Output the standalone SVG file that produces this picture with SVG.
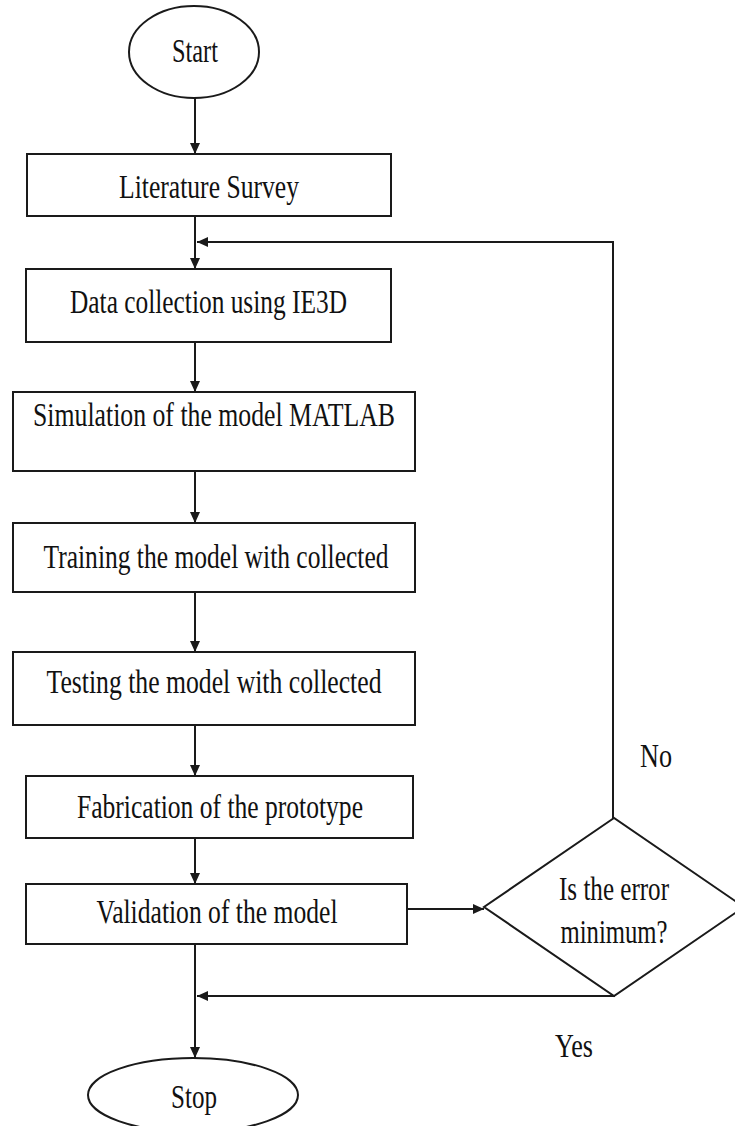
<svg xmlns="http://www.w3.org/2000/svg" width="735" height="1126" viewBox="0 0 735 1126">
<style>
.box{fill:#fff;stroke:#1a1a1a;stroke-width:2}
.t{font-family:"Liberation Serif","Times New Roman",serif;font-size:34px;fill:#111;text-anchor:middle}
.c{fill:none;stroke:#1a1a1a;stroke-width:2}
</style>
<defs>
<marker id="ah" markerUnits="userSpaceOnUse" markerWidth="12" markerHeight="10" refX="11" refY="5" orient="auto">
<path d="M0,0 L11,5 L0,10 z" fill="#1a1a1a"/>
</marker>
</defs>
<rect width="735" height="1126" fill="#fff"/>
<g id="connectors">
<line class="c" x1="195" y1="98" x2="195" y2="154" marker-end="url(#ah)"/>
<line class="c" x1="195" y1="216" x2="195" y2="269" marker-end="url(#ah)"/>
<polyline class="c" points="613,818 613,242 197,242" marker-end="url(#ah)"/>
<line class="c" x1="195" y1="342" x2="195" y2="392" marker-end="url(#ah)"/>
<line class="c" x1="195" y1="467" x2="195" y2="523" marker-end="url(#ah)"/>
<line class="c" x1="195" y1="592" x2="195" y2="652" marker-end="url(#ah)"/>
<line class="c" x1="195" y1="725" x2="195" y2="776" marker-end="url(#ah)"/>
<line class="c" x1="195" y1="838" x2="195" y2="884" marker-end="url(#ah)"/>
<line class="c" x1="407" y1="909" x2="484" y2="909" stroke-width="3" marker-end="url(#ah)"/>
<line class="c" x1="195" y1="944" x2="195" y2="1058" marker-end="url(#ah)"/>
<line class="c" x1="615" y1="996" x2="197" y2="996" marker-end="url(#ah)"/>
</g>
<g id="start">
<ellipse class="box" cx="194" cy="52" rx="65" ry="46"/>
<text class="t" x="195" y="62" textLength="46" lengthAdjust="spacingAndGlyphs">Start</text>
</g>
<g id="literature">
<rect class="box" x="27" y="154" width="364" height="62"/>
<text class="t" x="209" y="198" textLength="180" lengthAdjust="spacingAndGlyphs">Literature Survey</text>
</g>
<g id="data">
<rect class="box" x="26" y="269" width="365" height="73"/>
<text class="t" x="208.5" y="313" textLength="277" lengthAdjust="spacingAndGlyphs">Data collection using IE3D</text>
</g>
<g id="simulation">
<rect class="box" x="13" y="392" width="402" height="79"/>
<text class="t" x="214" y="426" textLength="362" lengthAdjust="spacingAndGlyphs">Simulation of the model MATLAB</text>
</g>
<g id="training">
<rect class="box" x="13" y="523" width="402" height="69"/>
<text class="t" x="216" y="568" textLength="345" lengthAdjust="spacingAndGlyphs">Training the model with collected</text>
</g>
<g id="testing">
<rect class="box" x="13" y="652" width="402" height="73"/>
<text class="t" x="214" y="693" textLength="335" lengthAdjust="spacingAndGlyphs">Testing the model with collected</text>
</g>
<g id="fabrication">
<rect class="box" x="26" y="776" width="387" height="62"/>
<text class="t" x="220" y="818" textLength="286" lengthAdjust="spacingAndGlyphs">Fabrication of the prototype</text>
</g>
<g id="validation">
<rect class="box" x="26" y="884" width="381" height="60"/>
<text class="t" x="217" y="923" textLength="241" lengthAdjust="spacingAndGlyphs">Validation of the model</text>
</g>
<g id="decision">
<polygon class="box" points="614,818 484,907 614,996 744,907"/>
<text class="t" x="614" y="900" textLength="110" lengthAdjust="spacingAndGlyphs">Is the error</text>
<text class="t" x="614" y="943" textLength="107" lengthAdjust="spacingAndGlyphs">minimum?</text>
</g>
<g id="labels">
<text class="t" x="656" y="767" textLength="32" lengthAdjust="spacingAndGlyphs">No</text>
<text class="t" x="574" y="1057" textLength="38" lengthAdjust="spacingAndGlyphs">Yes</text>
</g>
<g id="stop">
<ellipse class="box" cx="193" cy="1095" rx="105" ry="37"/>
<text class="t" x="194" y="1108" textLength="46" lengthAdjust="spacingAndGlyphs">Stop</text>
</g>
</svg>
